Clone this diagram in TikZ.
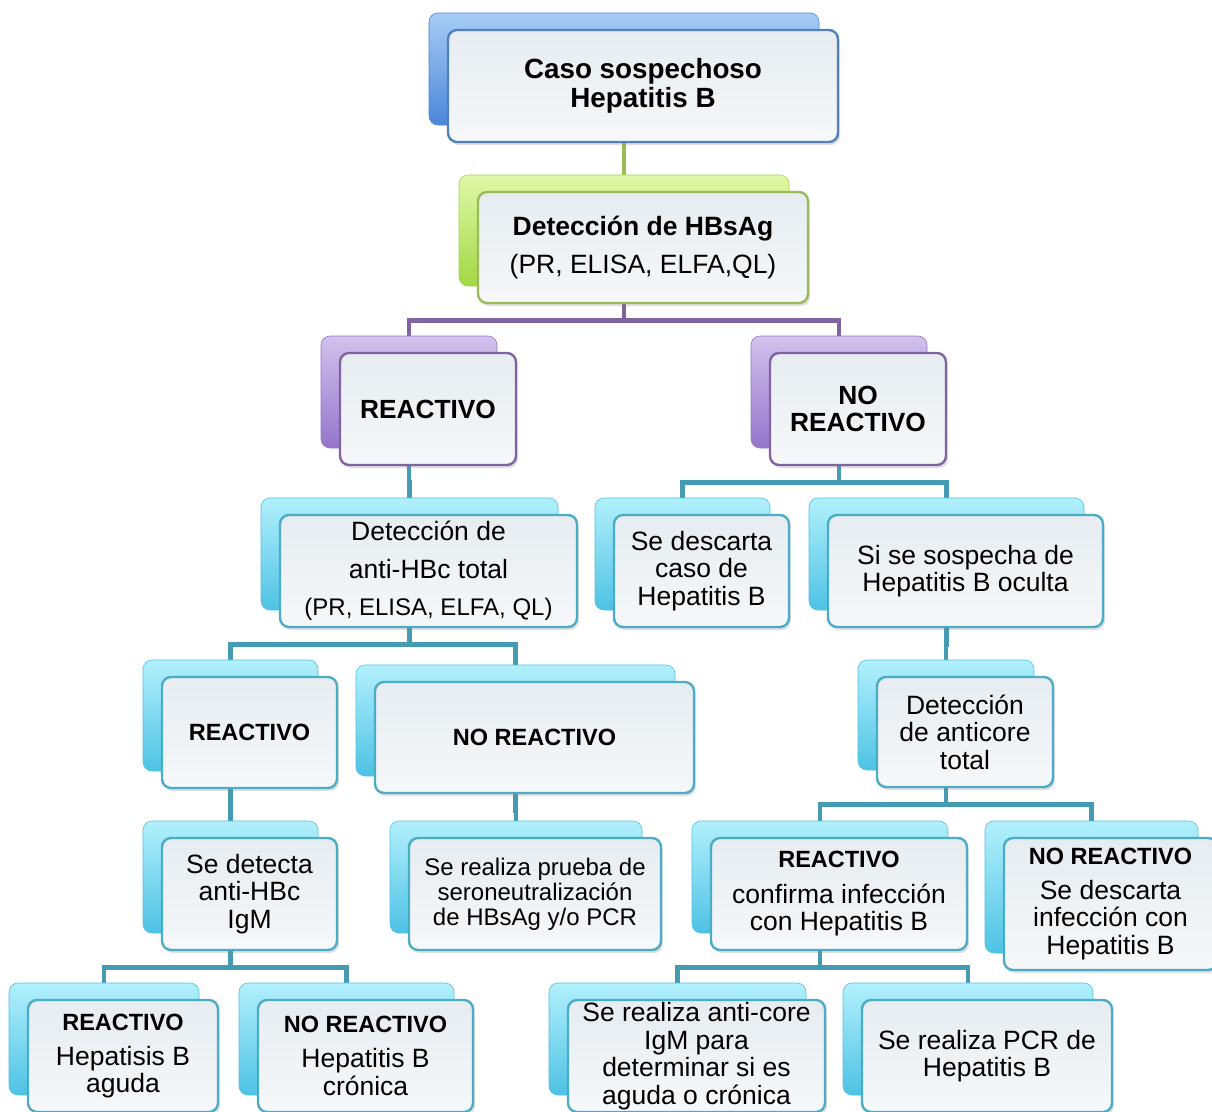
\documentclass[tikz,border=0pt]{standalone}
\usepackage{fontspec}
\setmainfont{Liberation Sans}
\usetikzlibrary{shadows,backgrounds}
\definecolor{blueA}{HTML}{4F81BD}
\definecolor{greenA}{HTML}{9BBB59}
\definecolor{purpleA}{HTML}{8064A2}
\definecolor{cyanA}{HTML}{4BACC6}
\definecolor{blueAT}{HTML}{A8CCF6}
\definecolor{blueAD}{HTML}{4A86D8}
\definecolor{greenAT}{HTML}{E0F8A8}
\definecolor{greenAD}{HTML}{A2D843}
\definecolor{purpleAT}{HTML}{D2C2EC}
\definecolor{purpleAD}{HTML}{9575CC}
\definecolor{cyanAT}{HTML}{B2F0FC}
\definecolor{cyanAD}{HTML}{4EC2E4}
\definecolor{frontT}{HTML}{E6ECF0}
\definecolor{frontB}{HTML}{F6F8FA}
\newcommand{\headbf}[1]{{\fontsize{23.5pt}{27pt}\selectfont\bfseries #1}}
\tikzset{panel/.style={rectangle,rounded corners=9pt,inner sep=2pt,align=center}}
\tikzset{dims/.style 2 args={minimum width=#1pt,minimum height=#2pt}}
\tikzset{backbox/.style={panel,draw=#1D,line width=0.6pt,top color=#1T,bottom color=#1D}}
\tikzset{frontbox/.style={panel,draw=#1,line width=2.4pt,top color=frontT,bottom color=frontB,xshift=19pt,yshift=-17pt,drop shadow={shadow xshift=2pt,shadow yshift=-3pt,opacity=0.25},font=\fontsize{26.5pt}{27.5pt}\selectfont}}
\tikzset{link/.style={draw=#1,line width=4.5pt}}

\begin{document}
\begin{tikzpicture}[x=1pt,y=-1pt]
    \useasboundingbox (0,0) rectangle (1212,1111);

    % first levels
    \node[backbox=blueA,dims={390}{112}] (casoB) at (624,69) {};
    \node[frontbox=blueA,dims={390}{112},font=\fontsize{27.8pt}{28.5pt}\selectfont\bfseries] (caso) at (casoB) {Caso sospechoso\\Hepatitis B};
    \node[backbox=greenA,dims={330}{111}] (hbsB) at (624,230.5) {};
    \node[frontbox=greenA,dims={330}{111}] (hbs) at (hbsB) {\textbf{Detección de HBsAg}\\[11pt](PR, ELISA, ELFA,QL)};

    \node[backbox=purpleA,dims={176}{112}] (reac1B) at (409,392) {};
    \node[frontbox=purpleA,dims={176}{112},font=\fontsize{26.3pt}{27pt}\selectfont\bfseries] (reac1) at (reac1B) {REACTIVO};
    \node[backbox=purpleA,dims={176}{112}] (noreac1B) at (839,392) {};
    \node[frontbox=purpleA,dims={176}{112},font=\fontsize{26.3pt}{27pt}\selectfont\bfseries] (noreac1) at (noreac1B) {NO\\REACTIVO};

    \node[backbox=cyanA,dims={297}{112}] (antiB) at (409.5,554) {};
    \node[frontbox=cyanA,dims={297}{112}] (anti) at (antiB) {Detección de\\[10pt]anti-HBc total\\[10pt]{\fontsize{24pt}{27.5pt}\selectfont(PR, ELISA, ELFA, QL)}};
    \node[backbox=cyanA,dims={175}{112}] (descB) at (682.5,554) {};
    \node[frontbox=cyanA,dims={175}{112}] (desc) at (descB) {Se descarta\\caso de\\Hepatitis B};
    \node[backbox=cyanA,dims={275}{112}] (sospB) at (946.5,554) {};
    \node[frontbox=cyanA,dims={275}{112}] (sosp) at (sospB) {Si se sospecha de\\Hepatitis B oculta};

    % lower levels
    \node[backbox=cyanA,dims={175}{111}] (reac2B) at (230.5,715.5) {};
    \node[frontbox=cyanA,dims={175}{111}] (reac2) at (reac2B) {\headbf{REACTIVO}};
    \node[backbox=cyanA,dims={319}{111}] (noreac2B) at (515.5,720.5) {};
    \node[frontbox=cyanA,dims={319}{111}] (noreac2) at (noreac2B) {\headbf{NO REACTIVO}};
    \node[backbox=cyanA,dims={176}{110}] (anticoreB) at (946,715) {};
    \node[frontbox=cyanA,dims={176}{110}] (anticore) at (anticoreB) {Detección\\de anticore\\total};

    \node[backbox=cyanA,dims={175}{112}] (detectaB) at (230.5,877) {};
    \node[frontbox=cyanA,dims={175}{112}] (detecta) at (detectaB) {Se detecta\\anti-HBc\\IgM};
    \node[backbox=cyanA,dims={252}{112}] (pruebaB) at (516,877) {};
    \node[frontbox=cyanA,dims={252}{112},font=\fontsize{24pt}{25pt}\selectfont] (prueba) at (pruebaB) {Se realiza prueba de\\seroneutralización\\de HBsAg y/o PCR};
    \node[backbox=cyanA,dims={256}{112}] (confirmaB) at (820,877) {};
    \node[frontbox=cyanA,dims={256}{112}] (confirma) at (confirmaB) {\headbf{REACTIVO}\\[8pt]confirma infección\\con Hepatitis B};
    \node[backbox=cyanA,dims={213}{132}] (descinfB) at (1091.5,887) {};
    \node[frontbox=cyanA,dims={213}{132}] (descinf) at (descinfB) {\headbf{NO REACTIVO}\\[7pt]Se descarta\\infección con\\Hepatitis B};

    \node[backbox=cyanA,dims={190}{112}] (agudaB) at (104,1039) {};
    \node[frontbox=cyanA,dims={190}{112}] (aguda) at (agudaB) {\headbf{REACTIVO}\\[7.5pt]Hepatisis B\\aguda};
    \node[backbox=cyanA,dims={215}{112}] (cronicaB) at (346.5,1039) {};
    \node[frontbox=cyanA,dims={215}{112}] (cronica) at (cronicaB) {\headbf{NO REACTIVO}\\[7.5pt]Hepatitis B\\crónica};
    \node[backbox=cyanA,dims={257}{112}] (igmB) at (677.5,1039) {};
    \node[frontbox=cyanA,dims={257}{112}] (igm) at (igmB) {Se realiza anti-core\\IgM para\\determinar si es\\aguda o crónica};
    \node[backbox=cyanA,dims={250}{112}] (pcrB) at (968,1039) {};
    \node[frontbox=cyanA,dims={250}{112}] (pcr) at (pcrB) {Se realiza PCR de\\Hepatitis B};

    \begin{scope}[on background layer]
        \path[link=greenA] (casoB.south) -- ++(0,34) -| (hbsB.north);
        \path[link=purpleA] (hbsB.south) -- ++(0,34) -| (reac1B.north);
        \path[link=purpleA] (hbsB.south) -- ++(0,34) -| (noreac1B.north);
        \path[link=cyanA!90!black] (reac1B.south) -- ++(0,34) -| (antiB.north);
        \path[link=cyanA!90!black] (noreac1B.south) -- ++(0,34) -| (descB.north);
        \path[link=cyanA!90!black] (noreac1B.south) -- ++(0,34) -| (sospB.north);
        \path[link=cyanA!90!black] (antiB.south) -- ++(0,34) -| (reac2B.north);
        \path[link=cyanA!90!black] (antiB.south) -- ++(0,34) -| (noreac2B.north);
        \path[link=cyanA!90!black] (sospB.south) -- ++(0,34) -| (anticoreB.north);
        \path[link=cyanA!90!black] (reac2B.south) -- ++(0,34) -| (detectaB.north);
        \path[link=cyanA!90!black] (noreac2B.south) -- ++(0,34) -| (pruebaB.north);
        \path[link=cyanA!90!black] (anticoreB.south) -- ++(0,34) -| (confirmaB.north);
        \path[link=cyanA!90!black] (anticoreB.south) -- ++(0,34) -| (descinfB.north);
        \path[link=cyanA!90!black] (detectaB.south) -- ++(0,34) -| (agudaB.north);
        \path[link=cyanA!90!black] (detectaB.south) -- ++(0,34) -| (cronicaB.north);
        \path[link=cyanA!90!black] (confirmaB.south) -- ++(0,34) -| (igmB.north);
        \path[link=cyanA!90!black] (confirmaB.south) -- ++(0,34) -| (pcrB.north);
    \end{scope}
\end{tikzpicture}
\end{document}
